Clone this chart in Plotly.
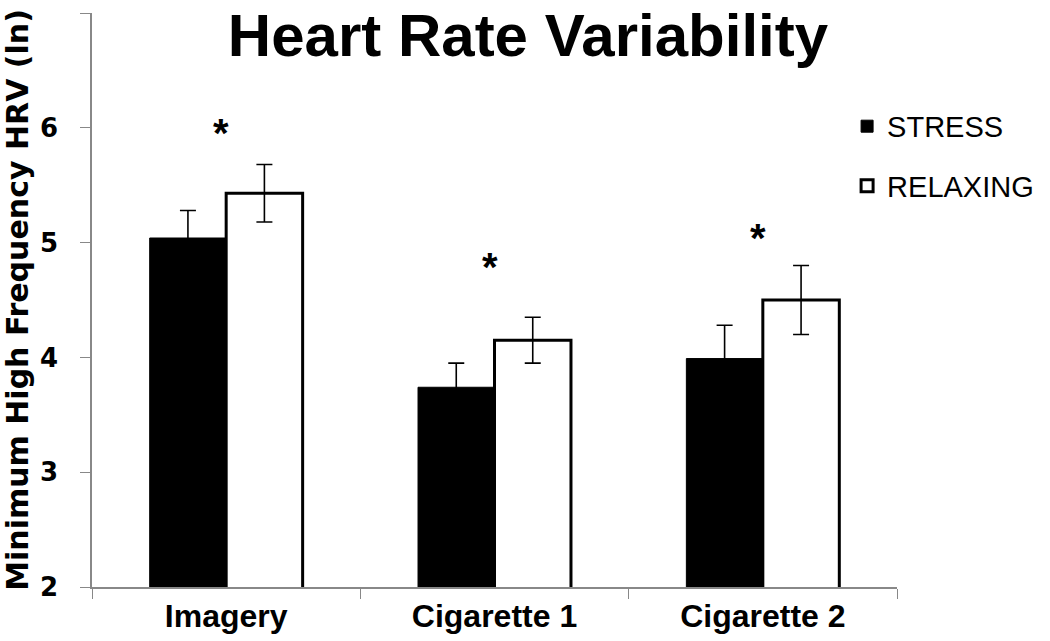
import plotly.graph_objects as go

categories = ["Imagery", "Cigarette 1", "Cigarette 2"]
stress = [5.04, 3.74, 3.99]
stress_err = [0.24, 0.21, 0.29]
relaxing = [5.43, 4.15, 4.50]
relaxing_err = [0.25, 0.20, 0.30]
star_y = [6.00, 4.83, 5.08]
y_ticks = [2, 3, 4, 5, 6, 7]

W, H = 1050, 641

fig = go.Figure()
fig.add_trace(go.Bar(
    x=categories, y=stress, name="STRESS", legendgroup="a",
    marker=dict(color="black", line=dict(color="black", width=1)),
    error_y=dict(type="data", array=stress_err, color="black", thickness=1.6, width=8),
))
fig.add_trace(go.Bar(
    x=categories, y=relaxing, name="RELAXING", legendgroup="b",
    marker=dict(color="white", line=dict(color="black", width=3)),
    error_y=dict(type="data", array=relaxing_err, color="black", thickness=1.6, width=8),
))

for c, s in zip(categories, star_y):
    fig.add_annotation(x=c, y=s, xref="x", yref="y", text="*", showarrow=False,
                       xshift=-5, yshift=-5,
                       font=dict(family="Liberation Sans, Arial", size=40, color="black", weight="bold"))

fig.update_layout(
    width=W, height=H,
    margin=dict(l=92, r=153, t=13, b=53.5, autoexpand=False),
    plot_bgcolor="white", paper_bgcolor="white",
    barmode="group", bargap=0.43, bargroupgap=0,
    title=dict(text="Heart Rate Variability", x=528/W, xanchor="center",
               y=1 - 35/H, yanchor="middle",
               font=dict(family="Liberation Sans, Arial", size=60, color="black", weight="bold")),
    legend=dict(x=0.938, y=0.847, xanchor="left", yanchor="top",
                traceorder="grouped", tracegroupgap=19,
                font=dict(family="Liberation Sans, Arial", size=29, color="black"),
                bgcolor="rgba(0,0,0,0)"),
    showlegend=True,
)
fig.update_xaxes(
    type="category", range=[-0.5, 2.5], automargin=False,
    showline=True, linecolor="#888888", linewidth=1.5,
    ticks="outside", tickson="boundaries", ticklen=10, tickcolor="#888888",
    tickfont=dict(family="Liberation Sans, Arial", size=32, color="black", weight="bold"),
    showgrid=False, zeroline=False,
)
fig.update_yaxes(
    range=[2, 7], tickvals=y_ticks, automargin=False,
    showline=True, linecolor="#888888", linewidth=1.5,
    ticks="outside", ticklen=10, tickcolor="#888888",
    ticklabelstandoff=17,
    tickfont=dict(family="DejaVu Sans", size=26, color="black", weight="bold"),
    title=dict(text="Minimum High Frequency HRV (ln)", standoff=6,
               font=dict(family="DejaVu Sans", size=30, color="black", weight="bold")),
    showgrid=False, zeroline=False,
)

fig.write_html("out.html", config={"displayModeBar": False},
               post_script="document.body.style.margin='0';document.body.style.overflow='hidden';")
